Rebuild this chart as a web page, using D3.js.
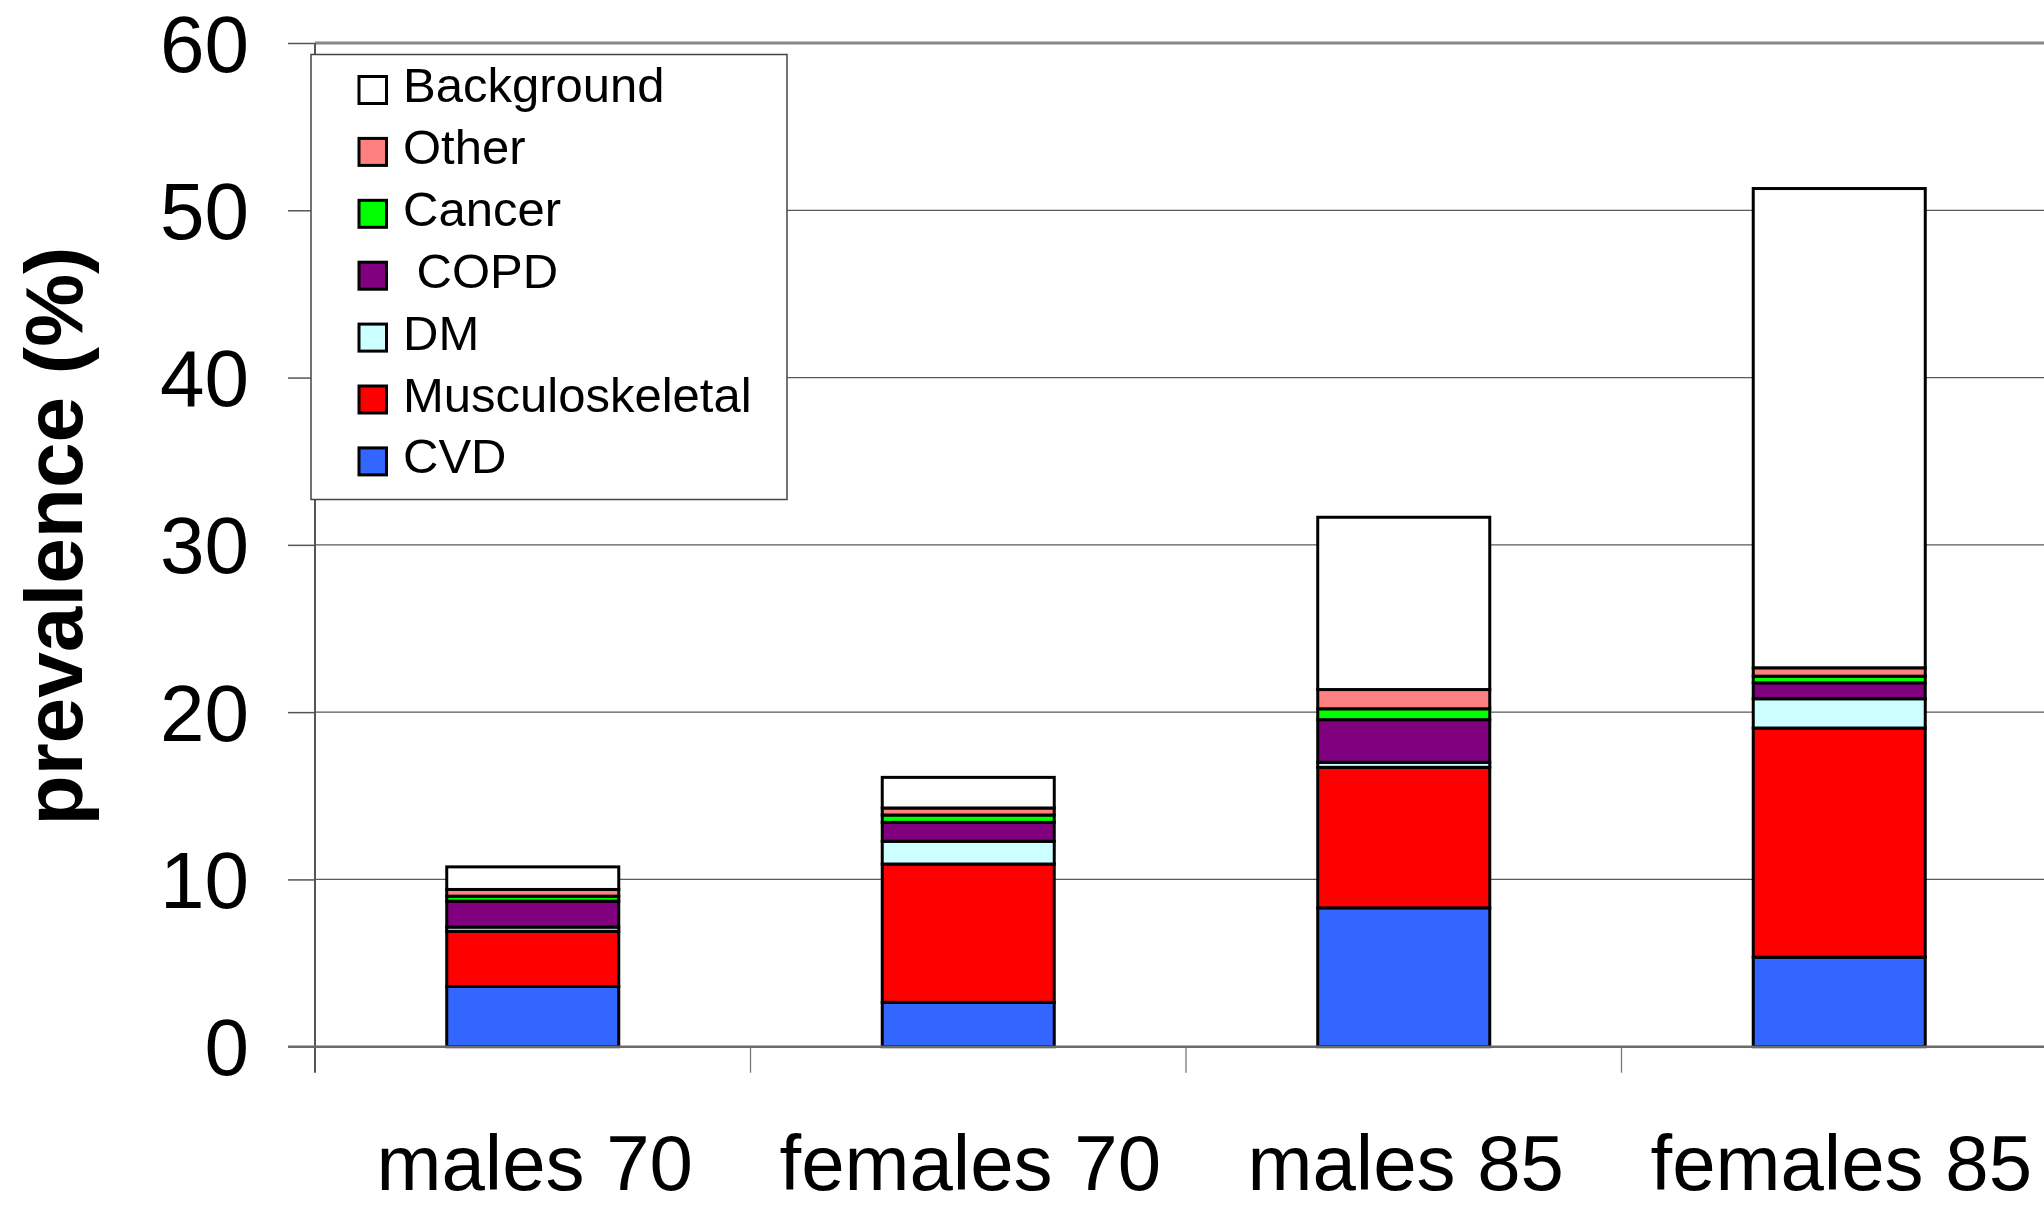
<!DOCTYPE html>
<html>
<head>
<meta charset="utf-8">
<script src="https://cdn.jsdelivr.net/npm/d3@7"></script>
<style>
  html, body { margin: 0; padding: 0; background: #ffffff; }
  svg { display: block; }
  text { font-family: "Liberation Sans", Arial, sans-serif; fill: #000; }
</style>
</head>
<body>
<svg id="chart" width="2044" height="1207"></svg>
<script>
// Groups on the x axis
const categories = ["males 70", "females 70", "males 85", "females 85"];

// Prevalence (%) per disease group, stacked bottom to top
const seriesKeys = ["CVD", "Musculoskeletal", "DM", "COPD", "Cancer", "Other", "Background"];
const cvd             = [3.6, 2.65, 8.3, 5.35];
const musculoskeletal = [3.3, 8.27, 8.4, 13.7];
const dm              = [0.25, 1.36, 0.3, 1.75];
const copd            = [1.55, 1.13, 2.55, 0.95];
const cancer          = [0.3, 0.44, 0.65, 0.4];
const other           = [0.4, 0.42, 1.15, 0.5];
const background      = [1.35, 1.83, 10.3, 28.65];

const seriesColors = ["#3366FF", "#FF0000", "#CCFFFF", "#800080", "#00FF00", "#FF8080", "#FFFFFF"];

// Legend entries, listed top to bottom
const legendLabels = ["Background", "Other", "Cancer", " COPD", "DM", "Musculoskeletal", "CVD"];
const legendKeys   = ["Background", "Other", "Cancer", "COPD", "DM", "Musculoskeletal", "CVD"];

const yTicks = [0, 10, 20, 30, 40, 50, 60];
const yTitle = "prevalence (%)";

// Build rows for d3.stack
const valuesByKey = {
  "CVD": cvd, "Musculoskeletal": musculoskeletal, "DM": dm, "COPD": copd,
  "Cancer": cancer, "Other": other, "Background": background
};
const rows = categories.map((c, i) => {
  const r = { category: c };
  seriesKeys.forEach(k => { r[k] = valuesByKey[k][i]; });
  return r;
});
const color = d3.scaleOrdinal(seriesKeys, seriesColors);

const svg = d3.select("#chart");

const plotLeft = 315, plotRight = 2057, plotTop = 43, plotBottom = 1046.7;

const y = d3.scaleLinear().domain([0, 60]).range([plotBottom, plotTop]);
const x = d3.scaleBand()
  .domain(categories)
  .range([plotLeft, plotRight])
  .paddingInner(0.605)
  .paddingOuter(0.3025);

// Horizontal gridlines
svg.append("g")
  .selectAll("line")
  .data(yTicks.filter(t => t > 0 && t < 60))
  .join("line")
  .attr("x1", plotLeft).attr("x2", plotRight)
  .attr("y1", d => y(d)).attr("y2", d => y(d))
  .attr("stroke", "#5a5a5a").attr("stroke-width", 1.3);

// Top frame line at 60
svg.append("line")
  .attr("x1", plotLeft).attr("x2", plotRight)
  .attr("y1", y(60)).attr("y2", y(60))
  .attr("stroke", "#888888").attr("stroke-width", 3);

// Y axis with left ticks and labels
const yAxis = d3.axisLeft(y).tickValues(yTicks).tickSize(27).tickPadding(39).tickFormat(d3.format("d"));
const yAxisG = svg.append("g")
  .attr("transform", `translate(${plotLeft},0)`)
  .call(yAxis);
yAxisG.select(".domain").remove();
yAxisG.selectAll(".tick line").attr("stroke", "#555").attr("stroke-width", 1.5);
yAxisG.selectAll(".tick text")
  .attr("font-size", 80)
  .attr("font-family", "'Liberation Sans', Arial, sans-serif")
  .attr("fill", "#000")
  .attr("dy", "0.35em");

// Vertical axis line, extended below the baseline
svg.append("line")
  .attr("x1", plotLeft).attr("x2", plotLeft)
  .attr("y1", plotTop).attr("y2", plotBottom + 26)
  .attr("stroke", "#555").attr("stroke-width", 2);

// Category separators below the baseline
const step = x.step();
const sepX = categories.slice(1).map(c => x(c) - (step - x.bandwidth()) / 2);
svg.append("g")
  .selectAll("line")
  .data(sepX)
  .join("line")
  .attr("x1", d => d).attr("x2", d => d)
  .attr("y1", plotBottom).attr("y2", plotBottom + 26)
  .attr("stroke", "#777").attr("stroke-width", 1.3);

// Stacked bars
const stacked = d3.stack().keys(seriesKeys)(rows);
svg.append("g")
  .selectAll("g")
  .data(stacked)
  .join("g")
  .attr("fill", d => color(d.key))
  .selectAll("rect")
  .data(d => d)
  .join("rect")
  .attr("x", d => x(d.data.category))
  .attr("width", x.bandwidth())
  .attr("y", d => y(d[1]))
  .attr("height", d => y(d[0]) - y(d[1]))
  .attr("stroke", "#000")
  .attr("stroke-width", 3);

// Baseline at zero
svg.append("line")
  .attr("x1", plotLeft - 27).attr("x2", plotRight)
  .attr("y1", y(0)).attr("y2", y(0))
  .attr("stroke", "#6a6a6a").attr("stroke-width", 2.5);

// Category labels
svg.append("g")
  .selectAll("text")
  .data(categories)
  .join("text")
  .attr("x", d => x(d) + x.bandwidth() / 2 + 2)
  .attr("y", 1190)
  .attr("text-anchor", "middle")
  .attr("font-size", 78)
  .text(d => d);

// Y axis title
svg.append("text")
  .attr("transform", "translate(82,536) rotate(-90)")
  .attr("text-anchor", "middle")
  .attr("font-size", 82)
  .attr("font-weight", "bold")
  .text(yTitle);

// Legend
const legend = svg.append("g");
legend.append("rect")
  .attr("x", 311).attr("y", 54.5)
  .attr("width", 476).attr("height", 445)
  .attr("fill", "#fff")
  .attr("stroke", "#444").attr("stroke-width", 1.5);

const rowH = 61.9;
const items = legend.selectAll("g.item")
  .data(legendKeys)
  .join("g")
  .attr("class", "item")
  .attr("transform", (d, i) => `translate(0,${90 + i * rowH})`);
items.append("rect")
  .attr("x", 359).attr("y", -13.5)
  .attr("width", 27.5).attr("height", 27)
  .attr("fill", d => color(d))
  .attr("stroke", "#000").attr("stroke-width", 3);
items.append("text")
  .attr("x", 403).attr("y", 12)
  .attr("font-size", 49)
  .style("white-space", "pre")
  .text((d, i) => legendLabels[i]);
</script>
</body>
</html>
